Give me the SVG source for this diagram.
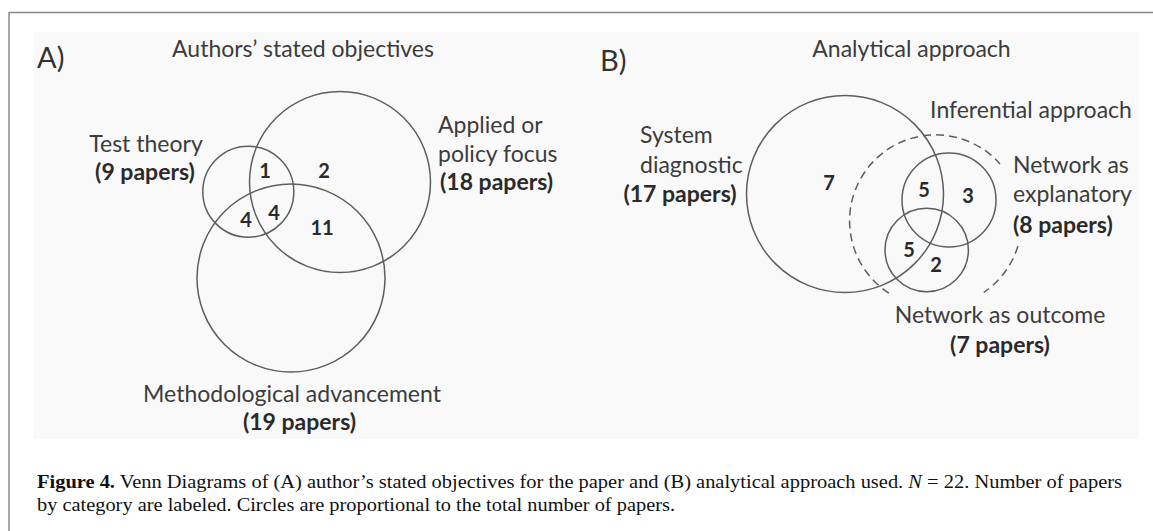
<svg xmlns="http://www.w3.org/2000/svg" width="1153" height="531" viewBox="0 0 1153 531">
<style>
.c{fill:none;stroke:#5e5e5e;stroke-width:1.5}
.d{fill:none;stroke:#5e5e5e;stroke-width:1.5;stroke-dasharray:8 5}
.t{font-family:Lato,"Open Sans",sans-serif;font-size:23px;fill:#3c3c3c}
.b{font-family:Lato,"Open Sans",sans-serif;font-size:23px;font-weight:bold;fill:#2a2a2a}
.n{font-family:Lato,"Open Sans",sans-serif;font-size:20px;font-weight:bold;fill:#2a2a2a;text-anchor:middle}
.m{text-anchor:middle}
.p{font-family:Lato,"Open Sans",sans-serif;font-size:29px;fill:#333}
.cap{font-family:"Liberation Serif",serif;font-size:19px;fill:#111}
</style>
<rect x="0" y="0" width="1153" height="531" fill="#ffffff"/>
<rect x="34" y="32" width="1105" height="407" fill="#f9f9f9"/>
<path d="M9 12.5H1153M9 12V531" fill="none" stroke="#8a8a8a" stroke-width="1.5"/>

<g id="panelA">
<text class="p" x="37" y="68">A)</text>
<text class="t m" x="303" y="57">Authors’ stated objectives</text>
</g>
<g id="test-theory">
<circle class="c" cx="248.3" cy="191.7" r="45.5"/>
<text class="t m" x="146" y="152">Test theory</text>
<text class="b m" x="145" y="180">(9 papers)</text>
</g>
<g id="applied">
<circle class="c" cx="340" cy="182" r="90.5"/>
<text class="t" x="438" y="133">Applied or</text>
<text class="t" x="438" y="162">policy focus</text>
<text class="b" x="440" y="190">(18 papers)</text>
</g>
<g id="methodological">
<circle class="c" cx="291" cy="278" r="94"/>
<text class="t m" x="292" y="402">Methodological advancement</text>
<text class="b m" x="299.5" y="430">(19 papers)</text>
</g>
<g id="countsA">
<text class="n" x="265" y="178">1</text>
<text class="n" x="324" y="178">2</text>
<text class="n" x="246" y="227">4</text>
<text class="n" x="274" y="220">4</text>
<text class="n" x="322" y="235">11</text>
</g>

<g id="panelB">
<text class="p" x="600" y="71">B)</text>
<text class="t m" x="911.5" y="57">Analytical approach</text>
</g>
<g id="system-diagnostic">
<circle class="c" cx="845" cy="194" r="98.5"/>
<text class="t" x="640" y="143">System</text>
<text class="t" x="640" y="173">diagnostic</text>
<text class="b m" x="680" y="202">(17 papers)</text>
</g>
<g id="inferential">
<path class="d" d="M888.9 293.1A86 86 0 1 1 1000 163.9M1017.9 246.1A86 86 0 0 1 983.8 292.3"/>
<text class="t m" x="1031" y="118">Inferential approach</text>
</g>
<g id="explanatory">
<circle class="c" cx="949" cy="200" r="47"/>
<text class="t" x="1013" y="173">Network as</text>
<text class="t" x="1013" y="202">explanatory</text>
<text class="b" x="1013" y="233">(8 papers)</text>
</g>
<g id="outcome">
<circle class="c" cx="926.7" cy="250" r="41.7"/>
<text class="t m" x="1000" y="323">Network as outcome</text>
<text class="b m" x="1000" y="353">(7 papers)</text>
</g>
<g id="countsB">
<text class="n" x="829" y="190">7</text>
<text class="n" x="924" y="197">5</text>
<text class="n" x="968" y="203">3</text>
<text class="n" x="909" y="257">5</text>
<text class="n" x="936" y="272">2</text>
</g>
<g id="connectors"></g>

<g id="caption">
<text class="cap" x="37" y="488" textLength="1085" lengthAdjust="spacingAndGlyphs"><tspan font-weight="bold">Figure 4.</tspan> Venn Diagrams of (A) author’s stated objectives for the paper and (B) analytical approach used. <tspan font-style="italic">N</tspan> = 22. Number of papers</text>
<text class="cap" x="37" y="511" textLength="638" lengthAdjust="spacingAndGlyphs">by category are labeled. Circles are proportional to the total number of papers.</text>
</g>
</svg>
